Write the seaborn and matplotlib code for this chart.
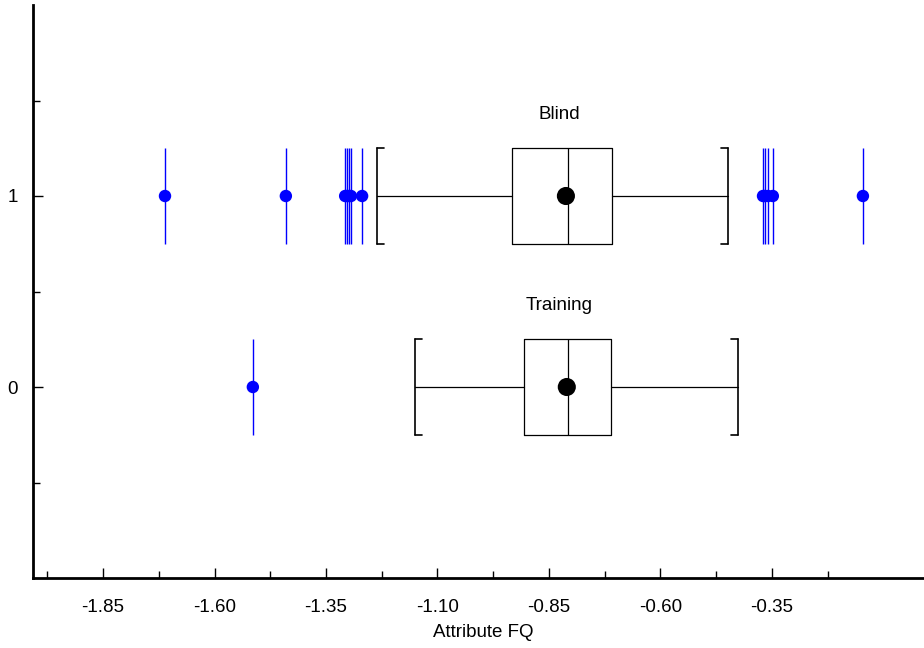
import matplotlib
matplotlib.use("Agg")
import matplotlib.pyplot as plt
import seaborn as sns
import pandas as pd

sns.set_style("ticks")
plt.rcParams["font.family"] = ["Liberation Sans", "DejaVu Sans"]
plt.rcParams["text.color"] = "black"
plt.rcParams["axes.labelcolor"] = "black"

# box statistics per group (position on y axis)
groups = ["Training", "Blind"]
positions = [0, 1]
whislo = [-1.150, -1.236]
q1 = [-0.906, -0.933]
med = [-0.807, -0.807]
q3 = [-0.711, -0.709]
whishi = [-0.426, -0.449]
centers = [-0.810, -0.812]

# outliers
blind_out = [-1.711, -1.440, -1.307, -1.303, -1.298, -1.294, -1.269,
             -0.370, -0.366, -0.359, -0.348, -0.146]
training_out = [-1.514]

half = 0.25
fs = 13.5
fig = plt.figure(figsize=(9.24, 6.48), dpi=100)
ax = fig.add_axes([33 / 924, 70 / 648, 891 / 924, 573 / 648])

stats = []
for i, g in enumerate(groups):
    stats.append(dict(label=g, whislo=whislo[i], q1=q1[i], med=med[i],
                      q3=q3[i], whishi=whishi[i], fliers=[]))

ax.bxp(stats, positions=positions, widths=2 * half, vert=False,
       showfliers=False, capwidths=2 * half,
       boxprops=dict(color="black", lw=0.9),
       whiskerprops=dict(color="black", lw=0.9),
       capprops=dict(color="black", lw=1.2),
       medianprops=dict(color="black", lw=0.9), manage_ticks=False)

# bracket serifs on the caps
serif = 0.016
for i, p in enumerate(positions):
    for yy in (p - half, p + half):
        ax.plot([whislo[i], whislo[i] + serif], [yy, yy], color="black", lw=1.2)
        ax.plot([whishi[i] - serif, whishi[i]], [yy, yy], color="black", lw=1.2)

# outliers: vertical lines + dots
out = pd.DataFrame({
    "value": blind_out + training_out,
    "pos": [1] * len(blind_out) + [0] * len(training_out),
})
ax.vlines(out["value"], out["pos"] - half, out["pos"] + half, color="blue", lw=1)
sns.scatterplot(data=out, x="value", y="pos", color="blue", s=80,
                edgecolor="none", ax=ax, zorder=3)

# central dots
cen = pd.DataFrame({"value": centers, "pos": positions})
sns.scatterplot(data=cen, x="value", y="pos", color="black", s=170,
                edgecolor="none", ax=ax, zorder=4)

for i, g in enumerate(groups):
    ax.text(med[i] - 0.02, positions[i] + 0.405, g, ha="center",
            va="baseline", fontsize=fs)

ax.set_xlim(-2.007, -0.009)
ax.set_ylim(-1, 2)
ax.set_xticks([-1.85, -1.60, -1.35, -1.10, -0.85, -0.60, -0.35])
ax.set_xticklabels(["-1.85", "-1.60", "-1.35", "-1.10", "-0.85", "-0.60", "-0.35"])
ax.set_xticks([-1.975, -1.725, -1.475, -1.225, -0.975, -0.725, -0.475, -0.225], minor=True)
ax.set_yticks([0, 1])
ax.set_yticks([-0.5, 0.5, 1.5], minor=True)
ax.tick_params(axis="both", which="both", direction="in", colors="black",
               labelsize=fs, width=1, bottom=True, left=True)
ax.tick_params(axis="both", which="major", length=7)
ax.tick_params(axis="both", which="minor", length=5)
ax.tick_params(axis="x", which="major", pad=15)
ax.tick_params(axis="y", which="major", pad=11)
for s in ["top", "right"]:
    ax.spines[s].set_visible(False)
for s in ["left", "bottom"]:
    ax.spines[s].set_linewidth(2)
    ax.spines[s].set_color("black")
ax.set_xlabel("Attribute FQ", fontsize=fs, labelpad=3)
ax.xaxis.set_label_coords(0.505, -0.08)
ax.set_ylabel("")
ax.set_facecolor("white")

fig.savefig("out.png", dpi=100)
